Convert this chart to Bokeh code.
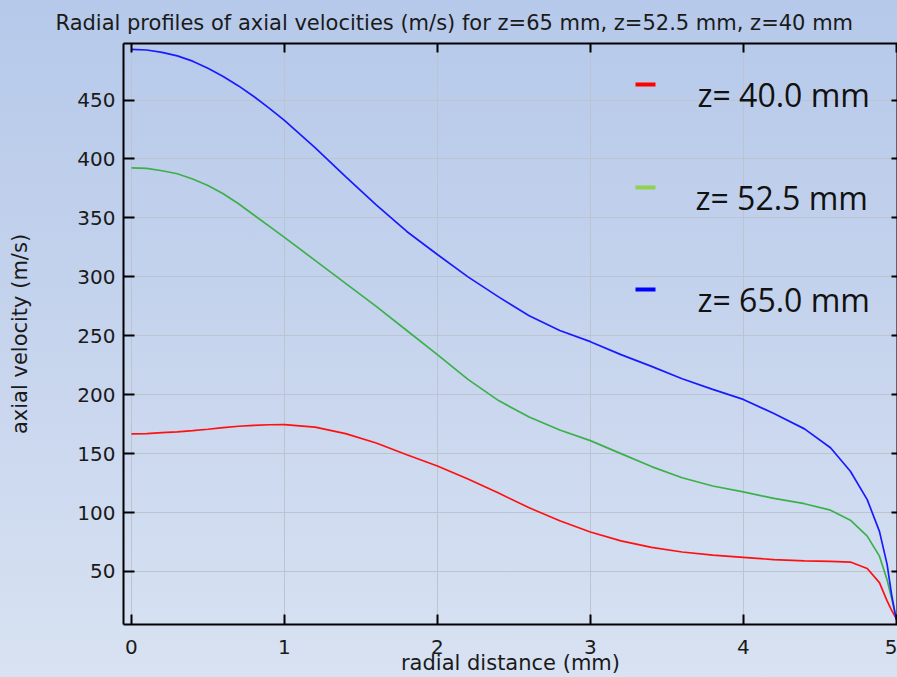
from bokeh.plotting import figure
from bokeh.models import Range1d, FixedTicker, LinearAxis, Label, BoxAnnotation, CustomJSTickFormatter
from bokeh.embed import file_html
from bokeh.resources import INLINE

# ---------------- data ----------------
radial_mm = [0.0, 0.1, 0.2, 0.3, 0.4, 0.5, 0.6, 0.7, 0.8, 0.9, 1.0, 1.2, 1.4, 1.6, 1.8,
             2.0, 2.2, 2.4, 2.6, 2.8, 3.0, 3.2, 3.4, 3.6, 3.8, 4.0, 4.2, 4.4, 4.57,
             4.7, 4.81, 4.89, 4.94, 4.97, 5.0]

v_z40 = [166.7, 167.0, 167.8, 168.5, 169.5, 170.7, 172.0, 173.2, 174.0, 174.5, 174.6,
         172.5, 167.0, 159.0, 149.0, 139.5, 128.5, 116.5, 104.0, 93.0, 83.5, 76.0,
         70.5, 66.5, 63.8, 62.0, 60.0, 59.0, 58.5, 58.0, 52.5, 40.5, 25.0, 17.0, 10.0]

v_z52_5 = [392.5, 392.0, 390.0, 387.5, 383.0, 377.5, 370.5, 362.0, 352.5, 343.0, 333.5,
           314.0, 294.5, 275.0, 254.5, 234.0, 213.0, 195.0, 181.0, 170.0, 161.0, 150.0,
           139.0, 129.5, 122.5, 117.5, 112.0, 107.5, 102.0, 93.5, 80.0, 63.0, 43.0, 27.0, 10.0]

v_z65 = [493.0, 492.5, 490.5, 487.5, 483.0, 477.0, 470.0, 462.0, 453.0, 443.2, 432.7,
         409.7, 385.1, 361.0, 338.5, 319.0, 300.0, 283.0, 267.0, 254.5, 245.0, 234.0,
         224.0, 213.5, 204.5, 196.0, 184.0, 171.0, 155.0, 135.0, 111.0, 84.0, 56.0, 30.0, 9.0]

x_ticks = [0, 1, 2, 3, 4, 5]
y_ticks = [50, 100, 150, 200, 250, 300, 350, 400, 450]

series_labels = ["z= 40.0 mm", "z= 52.5 mm", "z= 65.0 mm"]
line_colors = ["#ff1010", "#3cb04a", "#1a1aff"]
legend_colors = ["#ff0000", "#92d050", "#0000ff"]

title_text = "Radial profiles of axial velocities (m/s) for z=65 mm, z=52.5 mm, z=40 mm"
x_label = "radial distance (mm)"
y_label = "axial velocity (m/s)"

# ---------------- figure ----------------
FONT = "DejaVu Sans"
p = figure(width=897, height=677, output_backend="svg", toolbar_location=None,
           x_range=Range1d(-0.052, 5.008), y_range=Range1d(5, 498),
           min_border_left=123, min_border_right=0, min_border_top=42,
           min_border_bottom=53, x_axis_location=None, y_axis_location=None)

p.styles = {"background": "linear-gradient(180deg, #b6c9ea 0%, #c6d4ed 50%, #d8e2f2 100%)"}
p.border_fill_color = None
p.background_fill_color = None
p.outline_line_color = None

p.title.text = title_text
p.title.text_font = FONT
p.title.text_font_size = "21px"
p.title.text_font_style = "normal"
p.title.text_color = "#1a1a1a"
p.title.align = "left"
p.title.offset = -68
p.title.standoff = 17


def style_axis(ax, show_labels, tick_in):
    ax.axis_line_color = "black"
    ax.axis_line_width = 2
    ax.major_tick_line_color = "black"
    ax.major_tick_line_width = 2
    ax.major_tick_in = tick_in
    ax.major_tick_out = 0
    ax.minor_tick_line_color = None
    if show_labels:
        ax.major_label_text_font = FONT
        ax.major_label_text_font_size = "20px"
        ax.major_label_text_color = "#1a1a1a"
        ax.axis_label_text_font = FONT
        ax.axis_label_text_font_size = "21px"
        ax.axis_label_text_font_style = "normal"
        ax.axis_label_text_color = "#1a1a1a"
    else:
        ax.formatter = CustomJSTickFormatter(code="return ''")
        ax.major_label_text_color = None
        ax.major_label_standoff = 0


xb = LinearAxis(ticker=FixedTicker(ticks=x_ticks), axis_label=x_label)
style_axis(xb, True, 10)
xb.major_label_standoff = 15
xb.axis_label_standoff = -6
p.add_layout(xb, "below")

xt = LinearAxis(ticker=FixedTicker(ticks=x_ticks))
style_axis(xt, False, 9)
p.add_layout(xt, "above")

yl = LinearAxis(ticker=FixedTicker(ticks=y_ticks), axis_label=y_label)
style_axis(yl, True, 11)
yl.major_label_standoff = 8
yl.axis_label_standoff = 42
p.add_layout(yl, "left")

yr = LinearAxis(ticker=FixedTicker(ticks=y_ticks))
style_axis(yr, False, 6)
p.add_layout(yr, "right")

p.xgrid.ticker = FixedTicker(ticks=x_ticks)
p.ygrid.ticker = FixedTicker(ticks=y_ticks)
for g in (p.xgrid, p.ygrid):
    g.grid_line_color = "#bcc4d2"
    g.grid_line_width = 1

# ---------------- curves ----------------
for vals, col in zip([v_z40, v_z52_5, v_z65], line_colors):
    p.line(radial_mm, vals, line_color=col, line_width=1.7)

# ---------------- legend (placed like the reference's text boxes) ----------------
legend_text_y = [94, 197, 299]
legend_mark_y = [84, 187, 289]
legend_text_x = [697, 695, 697]
for lab, col, ty, my, tx in zip(series_labels, legend_colors, legend_text_y, legend_mark_y, legend_text_x):
    p.add_layout(BoxAnnotation(left=635, right=655, top=my - 2, bottom=my + 2,
                               left_units="canvas", right_units="canvas",
                               top_units="canvas", bottom_units="canvas",
                               fill_color=col, fill_alpha=1.0, line_color=None))
    p.add_layout(Label(x=tx, y=ty, x_units="canvas", y_units="canvas", text=lab,
                       text_font="Open Sans", text_font_size="32px",
                       text_color="#111111", text_align="left", text_baseline="middle"))

open("out.html", "w").write(file_html(p, INLINE))
